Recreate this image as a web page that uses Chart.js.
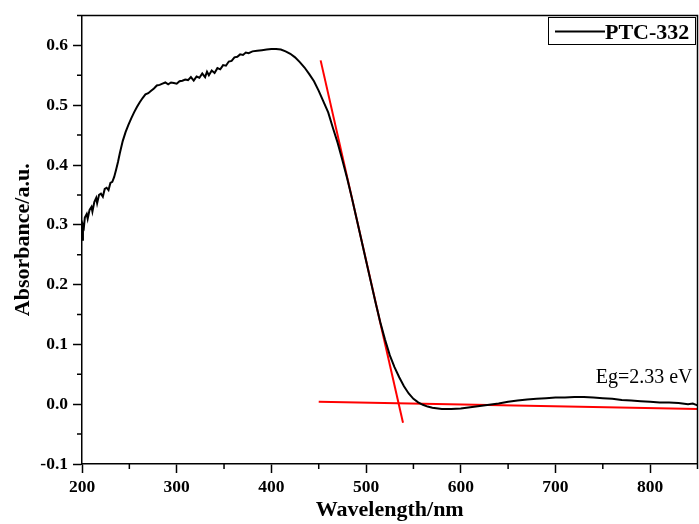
<!DOCTYPE html>
<html>
<head>
<meta charset="utf-8">
<script src="https://cdn.jsdelivr.net/npm/chart.js@4.4.1/dist/chart.umd.min.js"></script>
<style>
  html, body { margin: 0; padding: 0; background: #fff; }
  #wrap { width: 699px; height: 524px; }
</style>
</head>
<body>
<div id="wrap"><canvas id="absChart"></canvas></div>
<script>
// Data (wavelength in nm, absorbance in a.u.)
const wavelength = [
  200, 201, 202, 203, 205, 206, 208, 210, 211, 213, 215, 216, 218, 220, 222, 224, 226, 228,
  230, 232, 234, 236, 238, 240, 243, 246, 249, 252, 255, 258, 261, 264, 267, 270, 273, 276,
  279, 282, 285, 288, 291, 294, 297, 300, 303, 306, 309, 312, 315, 318, 321, 324, 327, 330,
  332, 334, 337, 340, 343, 346, 349, 352, 355, 358, 361, 364, 367, 370, 373, 376, 380, 385,
  390, 395, 400, 405, 410, 415, 420, 425, 430, 435, 440, 445, 450, 455, 460, 465, 470, 475,
  480, 485, 490, 495, 500, 505, 510, 515, 520, 525, 530, 535, 540, 545, 550, 555, 560, 565,
  570, 580, 590, 600, 610, 620, 630, 640, 650, 660, 670, 680, 690, 700, 710, 720, 730, 740,
  750, 760, 770, 780, 790, 800, 810, 820, 830, 840, 845, 850
];
const absorbance = [
  0.275, 0.300, 0.296, 0.312, 0.318, 0.310, 0.325, 0.330, 0.322, 0.338, 0.345, 0.336, 0.350, 0.352, 0.347, 0.360, 0.362, 0.358,
  0.370, 0.372, 0.380, 0.392, 0.405, 0.420, 0.440, 0.455, 0.467, 0.478, 0.488, 0.497, 0.505, 0.512, 0.518, 0.520, 0.524, 0.528,
  0.533, 0.534, 0.536, 0.538, 0.535, 0.538, 0.537, 0.536, 0.540, 0.541, 0.543, 0.542, 0.547, 0.541, 0.548, 0.546, 0.553, 0.547,
  0.556, 0.550, 0.558, 0.554, 0.562, 0.560, 0.567, 0.566, 0.573, 0.574, 0.580, 0.581, 0.585, 0.584, 0.588, 0.587, 0.590, 0.591,
  0.592, 0.593, 0.594, 0.594, 0.593, 0.590, 0.586, 0.580, 0.572, 0.563, 0.552, 0.540, 0.524, 0.506, 0.488, 0.462, 0.437, 0.408,
  0.378, 0.345, 0.310, 0.275, 0.240, 0.205, 0.170, 0.137, 0.108, 0.082, 0.062, 0.045, 0.030, 0.018, 0.009, 0.003, -0.001, -0.004,
  -0.006, -0.008, -0.008, -0.007, -0.005, -0.003, -0.001, 0.001, 0.004, 0.006, 0.008, 0.009, 0.010, 0.011, 0.011, 0.012, 0.012, 0.011,
  0.010, 0.009, 0.007, 0.006, 0.005, 0.004, 0.003, 0.003, 0.002, 0.000, 0.001, -0.002
];

// Tangent to the absorption edge and the baseline fit
const edgeX = [452, 539];
const edgeY = [0.575, -0.031];
const baseX = [450, 850];
const baseY = [0.004, -0.008];

const xTicks = [200, 300, 400, 500, 600, 700, 800];
const yTicks = [-0.1, 0.0, 0.1, 0.2, 0.3, 0.4, 0.5, 0.6];

const seriesName = 'PTC-332';
const gapLabel = 'Eg=2.33 eV';

const toPoints = (xs, ys) => xs.map((v, i) => ({ x: v, y: ys[i] }));
const serif = "'Liberation Serif', 'Times New Roman', serif";

// minor ticks between the labelled ones, frame, legend box and Eg note
const extras = {
  id: 'extras',
  afterDraw(chart) {
    const { ctx, chartArea: a, scales: { x, y } } = chart;
    ctx.save();
    ctx.strokeStyle = '#000';
    ctx.lineWidth = 1.5;
    ctx.beginPath();
    for (let v = 250; v <= 850; v += 100) {
      const px = x.getPixelForValue(v);
      ctx.moveTo(px, a.bottom);
      ctx.lineTo(px, a.bottom + 5);
    }
    for (let i = 0; i < yTicks.length; i++) {
      const py = y.getPixelForValue(yTicks[i] + 0.05);
      ctx.moveTo(a.left, py);
      ctx.lineTo(a.left - 5, py);
    }
    // top and right frame
    ctx.moveTo(a.left, a.top);
    ctx.lineTo(a.right, a.top);
    ctx.lineTo(a.right, a.bottom);
    ctx.stroke();

    // legend
    const bx = 548, by = a.top + 1.5, bw = a.right - bx - 2.5, bh = 27;
    ctx.lineWidth = 1;
    ctx.strokeRect(bx + 0.5, by + 0.5, bw, bh);
    ctx.lineWidth = 2;
    ctx.beginPath();
    ctx.moveTo(bx + 7, by + bh / 2 + 1);
    ctx.lineTo(bx + 57, by + bh / 2 + 1);
    ctx.stroke();
    ctx.fillStyle = '#000';
    ctx.font = "bold 22px " + serif;
    ctx.textBaseline = 'alphabetic';
    ctx.textAlign = 'left';
    ctx.fillText(chart.data.datasets[0].label, bx + 57, by + 22);

    // band gap note
    ctx.font = "20px " + serif;
    ctx.textAlign = 'right';
    ctx.fillText(gapLabel, a.right - 5, y.getPixelForValue(0.036));
    ctx.restore();
  }
};

new Chart(document.getElementById('absChart'), {
  type: 'scatter',
  data: {
    datasets: [
      {
        label: seriesName,
        data: toPoints(wavelength, absorbance),
        showLine: true,
        borderColor: '#000',
        borderWidth: 2,
        pointRadius: 0,
        tension: 0
      },
      {
        label: 'edge',
        data: toPoints(edgeX, edgeY),
        showLine: true,
        borderColor: '#ff0000',
        borderWidth: 2,
        pointRadius: 0
      },
      {
        label: 'base',
        data: toPoints(baseX, baseY),
        showLine: true,
        borderColor: '#ff0000',
        borderWidth: 2,
        pointRadius: 0
      }
    ]
  },
  options: {
    responsive: true,
    maintainAspectRatio: false,
    animation: false,
    layout: { padding: { top: 12, right: 1.5, left: 0, bottom: 0 } },
    plugins: {
      legend: { display: false },
      tooltip: { enabled: false }
    },
    scales: {
      x: {
        type: 'linear',
        min: 200,
        max: 850,
        afterBuildTicks: (s) => { s.ticks = xTicks.map(v => ({ value: v })); },
        afterFit: (s) => { s.height = 60; },
        grid: { drawOnChartArea: false, tickLength: 9, tickWidth: 1.5, tickColor: '#000' },
        border: { display: true, color: '#000', width: 1.5 },
        ticks: {
          color: '#000',
          padding: 4,
          maxRotation: 0,
          font: { family: serif, size: 17.5, weight: 'bold' }
        },
        title: {
          display: true,
          text: 'Wavelength/nm',
          color: '#000',
          padding: { top: 0, bottom: 0 },
          font: { family: serif, size: 22, weight: 'bold' }
        }
      },
      y: {
        type: 'linear',
        min: -0.1,
        max: 0.65,
        afterBuildTicks: (s) => { s.ticks = yTicks.map(v => ({ value: v })); },
        afterFit: (s) => { s.width = 82; },
        grid: { drawOnChartArea: false, tickLength: 9, tickWidth: 1.5, tickColor: '#000' },
        border: { display: true, color: '#000', width: 1.5 },
        ticks: {
          color: '#000',
          padding: 5,
          callback: (v) => Number(v).toFixed(1),
          font: { family: serif, size: 17.5, weight: 'bold' }
        },
        title: {
          display: true,
          text: 'Absorbance/a.u.',
          color: '#000',
          padding: { top: 10, bottom: 0 },
          font: { family: serif, size: 22, weight: 'bold' }
        }
      }
    }
  },
  plugins: [extras]
});
</script>
</body>
</html>
